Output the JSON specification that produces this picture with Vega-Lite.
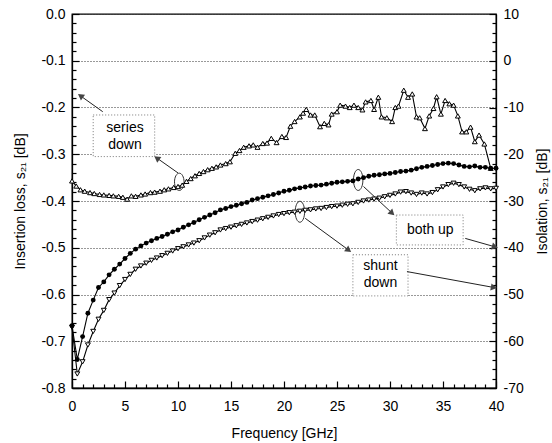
{
  "$schema": "https://vega.github.io/schema/vega-lite/v6.json",
  "width": 424,
  "height": 374,
  "autosize": {"type": "none"},
  "padding": {"left": 72, "top": 14, "right": 56, "bottom": 55},
  "background": "white",
  "config": {
    "view": {"stroke": "black", "strokeWidth": 1.3},
    "font": "Liberation Sans",
    "axis": {
      "labelFont": "Liberation Sans", "labelFontSize": 14, "labelColor": "black",
      "titleFont": "Liberation Sans", "titleFontSize": 14, "titleFontWeight": "normal", "titleColor": "black",
      "domainColor": "black", "domainWidth": 1.3, "tickColor": "black", "tickWidth": 1.2, "grid": false, "labelOverlap": false, "labelFlush": false
    }
  },
  "datasets": {
    "series": [
      {"f":0,"v":-0.357},{"f":0.4,"v":-0.368},{"f":0.8,"v":-0.376},{"f":1.2,"v":-0.379},{"f":1.7,"v":-0.382},{"f":2.1,"v":-0.384},{"f":2.6,"v":-0.386},{"f":3.0,"v":-0.387},{"f":3.5,"v":-0.388},{"f":3.9,"v":-0.389},{"f":4.4,"v":-0.390},{"f":4.8,"v":-0.392},{"f":5.2,"v":-0.396},{"f":5.6,"v":-0.389},{"f":6.0,"v":-0.390},{"f":6.5,"v":-0.387},{"f":6.9,"v":-0.385},{"f":7.4,"v":-0.382},{"f":7.8,"v":-0.381},{"f":8.3,"v":-0.379},{"f":8.7,"v":-0.376},{"f":9.1,"v":-0.374},{"f":9.6,"v":-0.371},{"f":10.0,"v":-0.369},{"f":10.4,"v":-0.366},{"f":10.8,"v":-0.358},{"f":11.2,"v":-0.352},{"f":11.6,"v":-0.346},{"f":12.0,"v":-0.341},{"f":12.4,"v":-0.337},{"f":12.8,"v":-0.333},{"f":13.2,"v":-0.330},{"f":13.6,"v":-0.327},{"f":14.0,"v":-0.323},{"f":14.5,"v":-0.320},{"f":14.9,"v":-0.316},{"f":15.4,"v":-0.298},{"f":15.8,"v":-0.292},{"f":16.2,"v":-0.285},{"f":16.7,"v":-0.282},{"f":17.1,"v":-0.280},{"f":17.5,"v":-0.285},{"f":18.0,"v":-0.277},{"f":18.4,"v":-0.276},{"f":18.8,"v":-0.266},{"f":19.3,"v":-0.275},{"f":19.8,"v":-0.262},{"f":20.2,"v":-0.264},{"f":20.6,"v":-0.240},{"f":21.0,"v":-0.230},{"f":21.5,"v":-0.220},{"f":21.8,"v":-0.212},{"f":22.1,"v":-0.204},{"f":22.5,"v":-0.216},{"f":22.9,"v":-0.216},{"f":23.4,"v":-0.241},{"f":23.8,"v":-0.234},{"f":24.2,"v":-0.237},{"f":24.5,"v":-0.214},{"f":25.0,"v":-0.209},{"f":25.3,"v":-0.195},{"f":25.8,"v":-0.197},{"f":26.2,"v":-0.200},{"f":26.6,"v":-0.195},{"f":27.0,"v":-0.200},{"f":27.4,"v":-0.205},{"f":27.7,"v":-0.188},{"f":28.2,"v":-0.185},{"f":28.5,"v":-0.204},{"f":28.9,"v":-0.178},{"f":29.2,"v":-0.220},{"f":29.7,"v":-0.222},{"f":30.2,"v":-0.230},{"f":30.5,"v":-0.200},{"f":30.8,"v":-0.197},{"f":31.3,"v":-0.163},{"f":31.7,"v":-0.178},{"f":32.1,"v":-0.171},{"f":32.5,"v":-0.220},{"f":32.8,"v":-0.222},{"f":33.3,"v":-0.245},{"f":33.7,"v":-0.218},{"f":34.1,"v":-0.202},{"f":34.4,"v":-0.177},{"f":34.8,"v":-0.214},{"f":35.2,"v":-0.185},{"f":35.6,"v":-0.192},{"f":36.0,"v":-0.195},{"f":36.4,"v":-0.218},{"f":36.8,"v":-0.252},{"f":37.2,"v":-0.252},{"f":37.6,"v":-0.242},{"f":38.0,"v":-0.273},{"f":38.4,"v":-0.259},{"f":38.9,"v":-0.278},{"f":39.5,"v":-0.330}
    ],
    "both": [
      {"f":0,"db":-56.7},{"f":0.5,"db":-63.9},{"f":1,"db":-59.0},{"f":1.5,"db":-54.0},{"f":2,"db":-51.2},{"f":2.5,"db":-48.5},{"f":3,"db":-47.3},{"f":3.5,"db":-45.8},{"f":4,"db":-44.6},{"f":4.5,"db":-43.5},{"f":5,"db":-42.3},{"f":5.5,"db":-41.2},{"f":6,"db":-40.3},{"f":6.5,"db":-39.6},{"f":7,"db":-39.0},{"f":7.5,"db":-38.5},{"f":8,"db":-38.0},{"f":8.5,"db":-37.6},{"f":9,"db":-37.1},{"f":9.5,"db":-36.6},{"f":10,"db":-36.2},{"f":10.5,"db":-35.6},{"f":11,"db":-35.1},{"f":11.5,"db":-34.6},{"f":12,"db":-34.0},{"f":12.5,"db":-33.5},{"f":13,"db":-33.0},{"f":13.5,"db":-32.5},{"f":14,"db":-31.9},{"f":14.5,"db":-31.6},{"f":15,"db":-31.2},{"f":15.5,"db":-30.9},{"f":16,"db":-30.6},{"f":16.5,"db":-30.3},{"f":17,"db":-29.8},{"f":17.5,"db":-29.5},{"f":18,"db":-29.2},{"f":18.5,"db":-28.9},{"f":19,"db":-28.6},{"f":19.5,"db":-28.3},{"f":20,"db":-27.9},{"f":20.5,"db":-27.7},{"f":21,"db":-27.4},{"f":21.5,"db":-27.2},{"f":22,"db":-27.0},{"f":22.5,"db":-26.8},{"f":23,"db":-26.7},{"f":23.5,"db":-26.6},{"f":24,"db":-26.4},{"f":24.5,"db":-26.2},{"f":25,"db":-26.0},{"f":25.5,"db":-25.9},{"f":26,"db":-25.8},{"f":26.5,"db":-25.7},{"f":27,"db":-25.3},{"f":27.5,"db":-25.0},{"f":28,"db":-24.7},{"f":28.5,"db":-24.5},{"f":29,"db":-24.4},{"f":29.5,"db":-24.2},{"f":30,"db":-24.1},{"f":30.5,"db":-23.9},{"f":31,"db":-23.7},{"f":31.5,"db":-23.6},{"f":32,"db":-23.4},{"f":32.5,"db":-23.1},{"f":33,"db":-22.8},{"f":33.5,"db":-22.6},{"f":34,"db":-22.4},{"f":34.5,"db":-22.2},{"f":35,"db":-22.0},{"f":35.5,"db":-21.9},{"f":36,"db":-22.0},{"f":36.5,"db":-22.3},{"f":37,"db":-22.6},{"f":37.5,"db":-22.7},{"f":38,"db":-22.5},{"f":38.5,"db":-22.8},{"f":39,"db":-22.8},{"f":39.5,"db":-23.0},{"f":40,"db":-23.0}
    ],
    "shunt": [
      {"f":0,"db":-57.0},{"f":0.5,"db":-67.0},{"f":1,"db":-64.4},{"f":1.5,"db":-60.8},{"f":2,"db":-57.9},{"f":2.5,"db":-55.3},{"f":3,"db":-53.4},{"f":3.5,"db":-51.1},{"f":4,"db":-49.7},{"f":4.5,"db":-48.1},{"f":5,"db":-46.8},{"f":5.5,"db":-45.7},{"f":6,"db":-44.6},{"f":6.5,"db":-43.9},{"f":7,"db":-43.3},{"f":7.5,"db":-42.7},{"f":8,"db":-42.2},{"f":8.5,"db":-41.7},{"f":9,"db":-41.2},{"f":9.5,"db":-40.7},{"f":10,"db":-40.2},{"f":10.5,"db":-39.8},{"f":11,"db":-39.4},{"f":11.5,"db":-39.0},{"f":12,"db":-38.5},{"f":12.5,"db":-37.9},{"f":13,"db":-37.3},{"f":13.5,"db":-36.8},{"f":14,"db":-36.2},{"f":14.5,"db":-35.9},{"f":15,"db":-35.6},{"f":15.5,"db":-35.3},{"f":16,"db":-35.0},{"f":16.5,"db":-34.7},{"f":17,"db":-34.4},{"f":17.5,"db":-34.1},{"f":18,"db":-33.8},{"f":18.5,"db":-33.5},{"f":19,"db":-33.2},{"f":19.5,"db":-32.9},{"f":20,"db":-32.7},{"f":20.5,"db":-32.5},{"f":21,"db":-32.4},{"f":21.5,"db":-32.2},{"f":22,"db":-32.0},{"f":22.5,"db":-31.9},{"f":23,"db":-31.7},{"f":23.5,"db":-31.6},{"f":24,"db":-31.4},{"f":24.5,"db":-31.2},{"f":25,"db":-31.1},{"f":25.5,"db":-30.9},{"f":26,"db":-30.7},{"f":26.5,"db":-30.6},{"f":27,"db":-30.3},{"f":27.5,"db":-30.0},{"f":28,"db":-29.8},{"f":28.5,"db":-29.6},{"f":29,"db":-29.4},{"f":29.5,"db":-29.1},{"f":30,"db":-28.8},{"f":30.5,"db":-28.5},{"f":31,"db":-28.1},{"f":31.5,"db":-28.0},{"f":32,"db":-28.3},{"f":32.5,"db":-28.6},{"f":33,"db":-28.3},{"f":33.5,"db":-28.5},{"f":34,"db":-28.2},{"f":34.5,"db":-27.6},{"f":35,"db":-27.0},{"f":35.5,"db":-26.5},{"f":36,"db":-26.2},{"f":36.5,"db":-26.5},{"f":37,"db":-27.0},{"f":37.5,"db":-27.5},{"f":38,"db":-27.8},{"f":38.5,"db":-27.4},{"f":39,"db":-27.2},{"f":39.5,"db":-27.4},{"f":40,"db":-27.3}
    ],
    "boxL": [{"f":2.0,"f2":7.8,"v":-0.216,"v2":-0.305}],
    "textL": [{"f":5.0,"v":-0.244,"t":"series"},{"f":5.0,"v":-0.281,"t":"down"}],
    "arrowsL": [{"f":2.9,"v":-0.209,"f2":0.8,"v2":-0.175},{"f":10.0,"v":-0.340,"f2":8.0,"v2":-0.308}],
    "headsL": [{"f":0.8,"v":-0.175},{"f":8.0,"v":-0.308}],
    "ellL": [{"f":10.12,"v":-0.359}],
    "boxR": [{"f":30.6,"f2":36.9,"db":-33.0,"db2":-39.4},{"f":26.5,"f2":31.7,"db":-41.5,"db2":-50.3}],
    "textR": [{"f":33.8,"db":-36.2,"t":"both up"},{"f":29.1,"db":-44.0,"t":"shunt"},{"f":29.1,"db":-47.6,"t":"down"}],
    "arrowsR": [{"f":27.5,"db":-26.9,"f2":30.2,"db2":-32.6},{"f":37.1,"db":-38.0,"f2":39.9,"db2":-39.8},{"f":22.0,"db":-33.7,"f2":26.1,"db2":-40.5},{"f":31.6,"db":-45.1,"f2":39.8,"db2":-48.5}],
    "headsR": [{"id":"b1","f":30.2,"db":-32.6},{"id":"b2","f":39.9,"db":-39.8},{"id":"c1","f":26.1,"db":-40.5},{"id":"c2","f":39.8,"db":-48.5}],
    "ellR": [{"f":27.0,"db":-25.5},{"f":21.5,"db":-32.3}]
  },
  "layer": [
    {
      "layer": [
        {
          "encoding": {
            "x": {
              "field": "f", "type": "quantitative",
              "scale": {"domain": [0, 40], "nice": false, "zero": false},
              "axis": {
                "orient": "bottom",
                "title": "Frequency [GHz]",
                "values": [0,5,10,15,20,25,30,35,40],
                "ticks": false, "tickSize": 0,
                "labelPadding": 11,
                "titleY": 45, "titleBaseline": "middle"
              }
            },
            "y": {
              "field": "v", "type": "quantitative",
              "scale": {"domain": [-0.8, 0], "nice": false, "zero": false},
              "axis": {
                "orient": "left",
                "title": "Insertion loss, s₂₁ [dB]",
                "values": [-0.8,-0.7,-0.6,-0.5,-0.4,-0.3,-0.2,-0.1,0],
                "labelExpr": "replace(format(datum.value, '.1f'), '−', '-')",
                "ticks": false, "tickSize": 0,
                "labelPadding": 7,
                "grid": true,
                "gridColor": "#333",
                "gridDash": [1, 2],
                "titleX": -52, "titleY": 187, "titleBaseline": "middle", "titleAngle": 270
              }
            }
          },
          "layer": [
            {"data": {"name": "boxL"}, "mark": {"type": "rect", "fill": "white", "stroke": "#777", "strokeDash": [1, 2], "strokeWidth": 1}, "encoding": {"x2": {"field": "f2"}, "y2": {"field": "v2"}}},
            {"data": {"name": "textL"}, "mark": {"type": "text", "fontSize": 14, "font": "Liberation Sans", "color": "black"}, "encoding": {"text": {"field": "t"}}},
            {"data": {"name": "arrowsL"}, "mark": {"type": "rule", "color": "#222", "strokeWidth": 1}, "encoding": {"x2": {"field": "f2"}, "y2": {"field": "v2"}}},
            {"data": {"name": "headsL"}, "mark": {"type": "point", "shape": "triangle-up", "filled": true, "color": "#444", "size": 50, "angle": 305.5, "opacity": 1}},
            {"data": {"name": "ellL"}, "mark": {"type": "point", "shape": "M0,-1A0.55,1,0,1,1,0,1A0.55,1,0,1,1,0,-1Z", "filled": false, "color": "#333", "size": 300, "strokeWidth": 1, "opacity": 1}},
            {"data": {"name": "series"}, "mark": {"type": "line", "color": "black", "strokeWidth": 1.1, "point": {"shape": "triangle-up", "filled": false, "fill": "white", "color": "black", "size": 24, "strokeWidth": 1, "opacity": 1}}}
          ]
        },
        {
          "data": {"name": "series"},
          "mark": {"type": "point", "opacity": 0},
          "encoding": {
            "x": {
              "field": "f", "type": "quantitative",
              "scale": {"domain": [0, 40], "nice": false, "zero": false},
              "axis": {"orient": "bottom", "title": null, "labels": false, "domain": false, "grid": false, "values": [0,5,10,15,20,25,30,35,40], "tickSize": 7, "offset": -7}
            },
            "y": {
              "field": "v", "type": "quantitative",
              "scale": {"domain": [-0.8, 0], "nice": false, "zero": false},
              "axis": {"orient": "left", "title": null, "labels": false, "domain": false, "grid": false, "values": [-0.8,-0.7,-0.6,-0.5,-0.4,-0.3,-0.2,-0.1,0], "tickSize": 7, "offset": -7}
            }
          }
        },
        {
          "data": {"name": "series"},
          "mark": {"type": "point", "opacity": 0},
          "encoding": {
            "x": {
              "field": "f", "type": "quantitative",
              "scale": {"domain": [0, 40], "nice": false, "zero": false},
              "axis": {"orient": "bottom", "title": null, "labels": false, "domain": false, "grid": false, "values": [1,2,3,4,6,7,8,9,11,12,13,14,16,17,18,19,21,22,23,24,26,27,28,29,31,32,33,34,36,37,38,39], "tickSize": 4, "offset": -4}
            },
            "y": {
              "field": "v", "type": "quantitative",
              "scale": {"domain": [-0.8, 0], "nice": false, "zero": false},
              "axis": {"orient": "left", "title": null, "labels": false, "domain": false, "grid": false, "values": [-0.78,-0.76,-0.74,-0.72,-0.68,-0.66,-0.64,-0.62,-0.58,-0.56,-0.54,-0.52,-0.48,-0.46,-0.44,-0.42,-0.38,-0.36,-0.34,-0.32,-0.28,-0.26,-0.24,-0.22,-0.18,-0.16,-0.14,-0.12,-0.08,-0.06,-0.04,-0.02], "tickSize": 4, "offset": -4}
            }
          }
        }
      ],
      "resolve": {"axis": {"x": "independent", "y": "independent"}}
    },
    {
      "layer": [
        {
          "encoding": {
            "x": {"field": "f", "type": "quantitative", "scale": {"domain": [0, 40], "nice": false, "zero": false}, "axis": null},
            "y": {
              "field": "db", "type": "quantitative",
              "scale": {"domain": [-70, 10], "nice": false, "zero": false},
              "axis": {
                "orient": "right",
                "title": "Isolation, s₂₁ [dB]",
                "values": [-70,-60,-50,-40,-30,-20,-10,0,10],
                "labelExpr": "replace(format(datum.value, 'd'), '−', '-')",
                "ticks": false, "tickSize": 0,
                "labelPadding": 7,
                "grid": false,
                "titleX": 46, "titleY": 187, "titleBaseline": "middle", "titleAngle": 270
              }
            }
          },
          "layer": [
            {"data": {"name": "boxR"}, "mark": {"type": "rect", "fill": "white", "stroke": "#777", "strokeDash": [1, 2], "strokeWidth": 1}, "encoding": {"x2": {"field": "f2"}, "y2": {"field": "db2"}}},
            {"data": {"name": "textR"}, "mark": {"type": "text", "fontSize": 14, "font": "Liberation Sans", "color": "black"}, "encoding": {"text": {"field": "t"}}},
            {"data": {"name": "arrowsR"}, "mark": {"type": "rule", "color": "#222", "strokeWidth": 1}, "encoding": {"x2": {"field": "f2"}, "y2": {"field": "db2"}}},
            {"data": {"name": "headsR"}, "transform": [{"filter": "datum.id === 'b1'"}], "mark": {"type": "point", "shape": "triangle-up", "filled": true, "color": "#444", "size": 50, "angle": 133, "opacity": 1}},
            {"data": {"name": "headsR"}, "transform": [{"filter": "datum.id === 'b2'"}], "mark": {"type": "point", "shape": "triangle-up", "filled": true, "color": "#444", "size": 50, "angle": 105.6, "opacity": 1}},
            {"data": {"name": "headsR"}, "transform": [{"filter": "datum.id === 'c1'"}], "mark": {"type": "point", "shape": "triangle-up", "filled": true, "color": "#444", "size": 50, "angle": 126.2, "opacity": 1}},
            {"data": {"name": "headsR"}, "transform": [{"filter": "datum.id === 'c2'"}], "mark": {"type": "point", "shape": "triangle-up", "filled": true, "color": "#444", "size": 50, "angle": 100.2, "opacity": 1}},
            {"data": {"name": "ellR"}, "mark": {"type": "point", "shape": "M0,-1A0.45,1,0,1,1,0,1A0.45,1,0,1,1,0,-1Z", "filled": false, "color": "#333", "size": 440, "strokeWidth": 1, "opacity": 1}},
            {"data": {"name": "shunt"}, "mark": {"type": "line", "color": "black", "strokeWidth": 1.1, "point": {"shape": "triangle-down", "filled": false, "fill": "white", "color": "black", "size": 24, "strokeWidth": 1, "opacity": 1}}},
            {"data": {"name": "both"}, "mark": {"type": "line", "color": "black", "strokeWidth": 1.1, "point": {"shape": "circle", "filled": true, "color": "black", "size": 24, "opacity": 1}}}
          ]
        },
        {
          "data": {"name": "both"},
          "mark": {"type": "point", "opacity": 0},
          "encoding": {
            "x": {"field": "f", "type": "quantitative", "scale": {"domain": [0, 40], "nice": false, "zero": false}, "axis": null},
            "y": {
              "field": "db", "type": "quantitative",
              "scale": {"domain": [-70, 10], "nice": false, "zero": false},
              "axis": {"orient": "right", "title": null, "labels": false, "domain": false, "grid": false, "values": [-70,-60,-50,-40,-30,-20,-10,0,10], "tickSize": 7, "offset": -7}
            }
          }
        },
        {
          "data": {"name": "both"},
          "mark": {"type": "point", "opacity": 0},
          "encoding": {
            "x": {"field": "f", "type": "quantitative", "scale": {"domain": [0, 40], "nice": false, "zero": false}, "axis": null},
            "y": {
              "field": "db", "type": "quantitative",
              "scale": {"domain": [-70, 10], "nice": false, "zero": false},
              "axis": {"orient": "right", "title": null, "labels": false, "domain": false, "grid": false, "values": [-68,-66,-64,-62,-58,-56,-54,-52,-48,-46,-44,-42,-38,-36,-34,-32,-28,-26,-24,-22,-18,-16,-14,-12,-8,-6,-4,-2,2,4,6,8], "tickSize": 4, "offset": -4}
            }
          }
        }
      ],
      "resolve": {"axis": {"y": "independent"}}
    }
  ],
  "resolve": {"scale": {"y": "independent"}, "axis": {"x": "independent"}}
}
